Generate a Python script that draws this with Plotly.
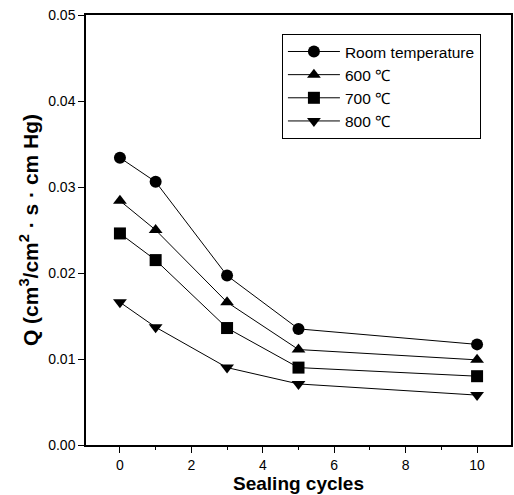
import plotly.graph_objects as go

cycles = [0, 1, 3, 5, 10]
room_temp = [0.0334, 0.0306, 0.0197, 0.0135, 0.0117]
t600 = [0.0284, 0.0250, 0.0166, 0.0111, 0.0099]
t700 = [0.0246, 0.0215, 0.0136, 0.0090, 0.0080]
t800 = [0.0166, 0.0137, 0.0090, 0.0071, 0.0058]

series = [
    ("Room temperature", room_temp, "circle"),
    ("600 ℃", t600, "triangle-up"),
    ("700 ℃", t700, "square"),
    ("800 ℃", t800, "triangle-down"),
]

fig = go.Figure()
for name, vals, sym in series:
    fig.add_trace(go.Scatter(
        x=cycles, y=vals, name=name, mode="lines+markers",
        line=dict(color="black", width=1),
        marker=dict(symbol=sym, size=12, color="black"),
    ))

FAM = "Liberation Sans, Arial, sans-serif"
fig.update_layout(
    width=514, height=495,
    margin=dict(l=86, r=3, t=15, b=50),
    paper_bgcolor="white", plot_bgcolor="white",
    font=dict(family=FAM, size=14, color="black"),
    showlegend=True,
    legend=dict(
        x=0.461, y=0.956, xanchor="left", yanchor="top",
        bordercolor="black", borderwidth=1, bgcolor="white",
        font=dict(family=FAM, size=15.5, color="black"),
        itemwidth=52, tracegroupgap=0,
    ),
    xaxis=dict(
        range=[-0.95, 10.95], tickvals=[0, 2, 4, 6, 8, 10],
        showline=True, linecolor="black", linewidth=1.5, mirror=True,
        ticks="outside", ticklen=6, tickcolor="black",
        minor=dict(tickvals=[1, 3, 5, 7, 9], ticks="outside", ticklen=3, tickcolor="black"),
        showgrid=False, zeroline=False, automargin=False,
        tickfont=dict(family=FAM, size=14),
        title=dict(text="<b>Sealing cycles</b>", font=dict(family=FAM, size=19), standoff=0),
    ),
    yaxis=dict(
        range=[0, 0.05], tickvals=[0, 0.01, 0.02, 0.03, 0.04, 0.05],
        ticktext=["0.00", "0.01", "0.02", "0.03", "0.04", "0.05"],
        showline=True, linecolor="black", linewidth=1.5, mirror=True,
        ticks="outside", ticklen=6, tickcolor="black",
        showgrid=False, zeroline=False, automargin=False,
        tickfont=dict(family=FAM, size=14),
        title=dict(text="<b>Q (cm<sup>3</sup>/cm<sup>2</sup> · s · cm Hg)</b>", font=dict(family=FAM, size=21), standoff=4),
    ),
)

fig.write_html(
    "out.html",
    config={"displayModeBar": False},
    post_script="document.body.style.margin='0';document.body.style.overflow='hidden';",
)
